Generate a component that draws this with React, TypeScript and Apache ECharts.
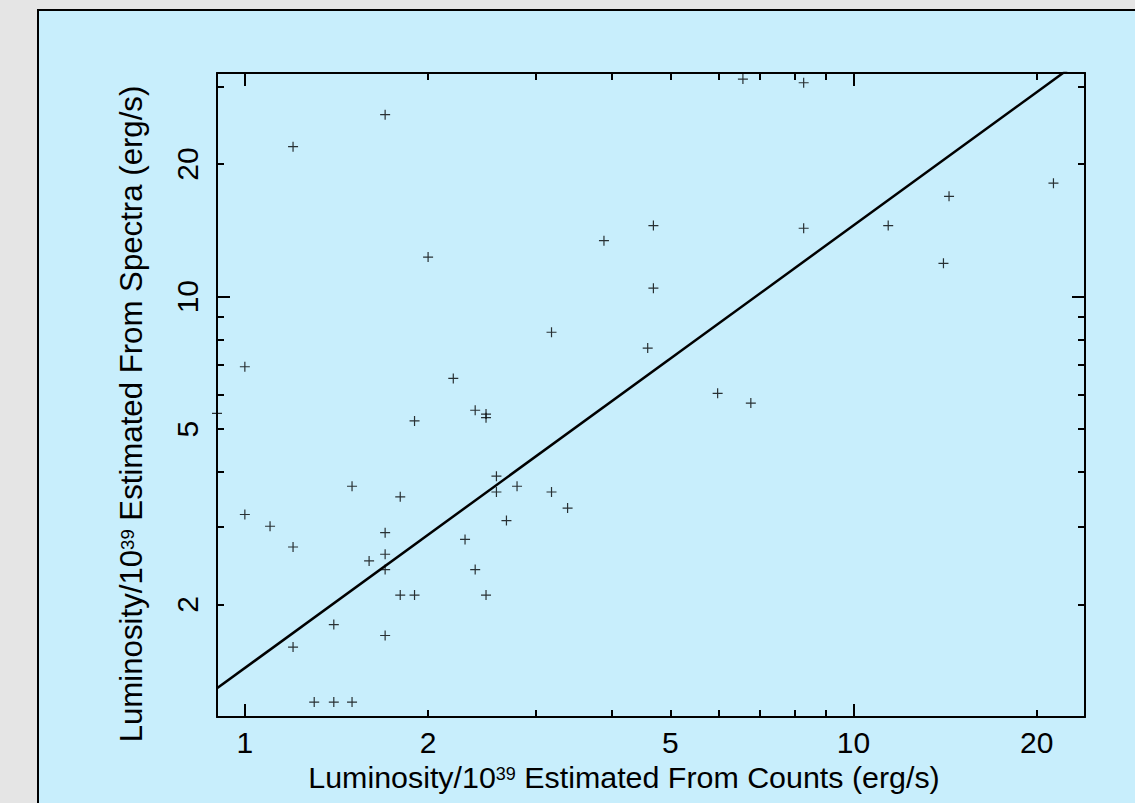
import React, { useEffect, useRef } from 'react';
import * as echarts from 'echarts';

// Luminosity / 1e39 erg/s estimated from counts (x) and from spectra (y)
const countsLum = [
  1.70, 1.20, 6.58, 8.28, 21.3, 14.35, 11.4, 8.28, 4.69, 3.89,
  14.05, 2.00, 4.69, 3.19, 4.59, 1.00, 2.20, 5.98, 6.78, 0.90,
  2.39, 2.49, 2.49, 1.90, 2.59, 1.50, 2.80, 2.59, 3.19, 1.80,
  3.39, 1.00, 1.10, 2.69, 1.70, 1.20, 2.30, 1.70, 1.60, 1.70,
  2.39, 1.80, 1.90, 2.49, 1.40, 1.70, 1.20, 1.30, 1.40, 1.50,
];
const spectraLum = [
  25.9, 21.9, 31.2, 30.6, 18.1, 16.9, 14.5, 14.3, 14.5, 13.4,
  11.9, 12.3, 10.45, 8.3, 7.64, 6.93, 6.52, 6.03, 5.73, 5.43,
  5.52, 5.41, 5.31, 5.22, 3.91, 3.71, 3.71, 3.60, 3.60, 3.51,
  3.31, 3.20, 3.01, 3.10, 2.91, 2.70, 2.81, 2.60, 2.51, 2.40,
  2.40, 2.10, 2.10, 2.10, 1.80, 1.70, 1.60, 1.20, 1.20, 1.20,
];

// reference line (roughly y = 1.44 x)
const fitX = [0.9, 24];
const fitY = [1.29, 35.0];

const xRange = [0.9, 24];
const yRange = [1.11, 32.2];

const xMinorTicks = [1, 2, 3, 4, 5, 6, 7, 8, 9, 10, 20];
const xMajorTicks = [1, 10];
const xTickLabels = [1, 2, 5, 10, 20];
const yMinorTicks = [2, 3, 4, 5, 6, 7, 8, 9, 10, 20, 30];
const yMajorTicks = [10];
const yTickLabels = [2, 5, 10, 20];

const xTitle = 'Luminosity/10{sup|39} Estimated From Counts (erg/s)';
const yTitle = 'Luminosity/10{sup|39} Estimated From Spectra (erg/s)';

const FONT = "'Liberation Sans', Arial, Helvetica, sans-serif";
const lg = (v: number) => Math.log10(v);

function tickAxis(
  position: string,
  range: number[],
  ticks: number[],
  len: number,
  showLine: boolean,
  labels?: number[],
  labelOpts?: any
) {
  return {
    type: 'value',
    position,
    min: lg(range[0]),
    max: lg(range[1]),
    axisLine: { show: showLine, onZero: false, lineStyle: { color: '#000', width: 2 } },
    axisTick: {
      show: true,
      inside: true,
      length: len,
      customValues: ticks.map(lg),
      lineStyle: { color: '#000', width: 2 },
    },
    axisLabel: labels
      ? {
          show: true,
          customValues: labels.map(lg),
          formatter: (v: number) => String(Math.round(Math.pow(10, v))),
          fontSize: 30,
          fontFamily: FONT,
          color: '#000',
          ...labelOpts,
        }
      : { show: false },
    splitLine: { show: false },
  };
}

export default function App() {
  const ref = useRef<HTMLDivElement>(null);

  useEffect(() => {
    if (!ref.current) return;
    const chart = echarts.init(ref.current, null, { renderer: 'svg' });
    const sup = (size: number) => ({
      sup: { fontSize: size, fontFamily: FONT, fill: '#000', color: '#000', padding: [0, 0, 7, 0] },
    });
    chart.setOption({
      animation: false,
      backgroundColor: 'transparent',
      grid: { left: 217, top: 73, right: 50, bottom: 86, containLabel: false },
      xAxis: [
        { type: 'log', logBase: 10, min: xRange[0], max: xRange[1], show: false },
        tickAxis('bottom', xRange, xMinorTicks, 7, true, xTickLabels, { margin: 10 }),
        tickAxis('bottom', xRange, xMajorTicks, 13, false),
        tickAxis('top', xRange, xMinorTicks, 7, true),
        tickAxis('top', xRange, xMajorTicks, 13, false),
      ],
      yAxis: [
        { type: 'log', logBase: 10, min: yRange[0], max: yRange[1], show: false },
        tickAxis('left', yRange, yMinorTicks, 7, true, yTickLabels, { margin: 15, rotate: 90 }),
        tickAxis('left', yRange, yMajorTicks, 13, false),
        tickAxis('right', yRange, yMinorTicks, 7, true),
        tickAxis('right', yRange, yMajorTicks, 13, false),
      ],
      series: [
        {
          type: 'line',
          xAxisIndex: 0,
          yAxisIndex: 0,
          data: fitX.map((x, i) => [x, fitY[i]]),
          symbol: 'none',
          clip: true,
          lineStyle: { color: '#000', width: 2.5 },
          z: 3,
        },
        {
          type: 'scatter',
          xAxisIndex: 0,
          yAxisIndex: 0,
          data: countsLum.map((x, i) => [x, spectraLum[i]]),
          symbol: 'path://M0,5L10,5M5,0L5,10',
          symbolSize: 10,
          itemStyle: { color: '#000', borderColor: '#000', borderWidth: 1.2 },
          z: 4,
        },
      ],
      graphic: [
        {
          type: 'text',
          x: 624,
          y: 777,
          style: {
            text: xTitle,
            fontSize: 30.4,
            fontFamily: FONT,
            fill: '#000',
            align: 'center',
            verticalAlign: 'middle',
            rich: sup(18),
          },
        },
        {
          type: 'text',
          x: 131,
          y: 414,
          rotation: Math.PI / 2,
          style: {
            text: yTitle,
            fontSize: 31.2,
            fontFamily: FONT,
            fill: '#000',
            align: 'center',
            verticalAlign: 'middle',
            rich: sup(18.5),
          },
        },
      ],
    });
    return () => chart.dispose();
  }, []);

  return (
    <div
      style={{
        position: 'fixed',
        left: 0,
        top: 0,
        width: 1135,
        height: 803,
        background: '#e5e5e5',
        overflow: 'hidden',
      }}
    >
      <div
        style={{
          position: 'absolute',
          left: 37,
          top: 9,
          width: 1110,
          height: 810,
          background: '#c8eefc',
          borderLeft: '2px solid #000',
          borderTop: '2px solid #000',
        }}
      />
      <div ref={ref} style={{ position: 'absolute', left: 0, top: 0, width: 1135, height: 803 }} />
    </div>
  );
}
